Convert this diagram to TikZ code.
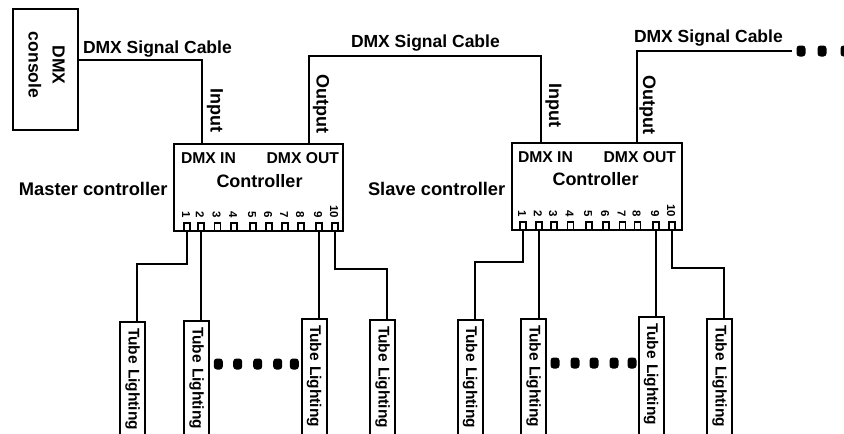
\documentclass[tikz,border=0pt]{standalone}
\usepackage{fontspec}
\setmainfont{Liberation Sans}
\begin{document}
\begin{tikzpicture}[x=1pt,y=-1pt,line width=2pt,
  box/.style={draw,line width=2pt,inner sep=0pt},
  lbl/.style={font=\bfseries\fontsize{17.5}{20}\selectfont,inner sep=0pt},
  big/.style={font=\bfseries\fontsize{18.3}{20}\selectfont,inner sep=0pt},
  dmx/.style={font=\bfseries\fontsize{15.7}{18}\selectfont,inner sep=0pt},
  ctl/.style={font=\bfseries\fontsize{18}{20}\selectfont,inner sep=0pt},
  vlbl/.style={font=\bfseries\fontsize{18}{20}\selectfont,rotate=-90,inner sep=0pt},
  pin/.style={draw,line width=1.8pt,minimum width=6pt,minimum height=8pt,inner sep=0pt},
  pnum/.style={font=\bfseries\fontsize{11.5}{12}\selectfont,rotate=-90,anchor=east,inner sep=0pt},
  tube/.style={draw,line width=2pt,rotate=-90,anchor=west,minimum height=25pt,text width=118pt,
    inner xsep=6pt,inner ysep=0pt,align=left,font=\bfseries\fontsize{15.5}{16}\selectfont},
  bigdot/.style={fill,rounded corners=3pt,minimum width=9pt,minimum height=11pt,inner sep=0pt},
  wire/.style={line width=2pt}]
\useasboundingbox (0,0) rectangle (844,434);
\begin{scope}
\clip (0,0) rectangle (844,434);
% console
\node[box,minimum width=65pt,minimum height=121pt] (con) at (45.5,69.5) {};
\node[rotate=-90,align=center,font=\bfseries\fontsize{17.5}{24}\selectfont,inner sep=0pt] (contxt) at (46.5,65) {DMX\\console};
% controllers
\node[box,minimum width=169pt,minimum height=87pt] (c1) at (258.5,187.5) {};
\node[box,minimum width=170pt,minimum height=87pt] (c2) at (597,186.5) {};
\node[dmx,anchor=base west] (c1in) at (180,163) {DMX IN};
\node[dmx,anchor=base east] (c1out) at (340,163) {DMX OUT};
\node[ctl,anchor=base] (c1name) at (259.5,187) {Controller};
\node[dmx,anchor=base west] (c2in) at (517,162) {DMX IN};
\node[dmx,anchor=base east] (c2out) at (677,162) {DMX OUT};
\node[ctl,anchor=base] (c2name) at (595.5,185) {Controller};
\node[big,anchor=base west] (master) at (18,195) {Master controller};
\node[big,anchor=base west] (slave) at (367,195) {Slave controller};
% pins
\foreach \i/\x in {1/187,2/201,3/217.5,4/234,5/253,6/269,7/285,8/301,9/319,10/335}{
  \node[pin] (c1p\i) at (\x,227) {};
  \node[pnum] (c1n\i) at (\x-1,219) {\i};
}
\foreach \i/\x in {1/523,2/539,3/554,4/570.5,5/589,6/606,7/622.5,8/637.5,9/656,10/672}{
  \node[pin] (c2p\i) at (\x,226) {};
  \node[pnum] (c2n\i) at (\x-1,218) {\i};
}
% cables
\node[lbl,anchor=base west] (cab1) at (82,53) {DMX Signal Cable};
\node[lbl,anchor=base west] (cab2) at (350,47) {DMX Signal Cable};
\node[lbl,anchor=base west] (cab3) at (633,42) {DMX Signal Cable};
\coordinate (k2) at (425,56);
\coordinate (e3) at (792,51);
\draw[wire] ([yshift=9.5pt]con.east) -| ([xshift=-56.5pt]c1.north);
\draw[wire] ([xshift=50.5pt]c1.north) |- (k2) -| ([xshift=-56pt]c2.north);
\draw[wire] ([xshift=40pt]c2.north) |- (e3);
\node[bigdot] (d31) at (801,51) {};
\node[bigdot] (d32) at (822,51) {};
\node[bigdot] (d33) at (845,51) {};
\node[vlbl] (in1) at (215,110) {Input};
\node[vlbl] (out1) at (321,104) {Output};
\node[vlbl] (in2) at (553.5,105) {Input};
\node[vlbl] (out2) at (647.5,105) {Output};
% tubes
\node[tube] (t11) at (132.5,321) {Tube Lighting};
\node[tube] (t12) at (196.5,320) {Tube Lighting};
\node[tube] (t13) at (314,318) {Tube Lighting};
\node[tube] (t14) at (382.5,319) {Tube Lighting};
\node[tube] (t21) at (470,319) {Tube Lighting};
\node[tube] (t22) at (533.5,318) {Tube Lighting};
\node[tube] (t23) at (651,316) {Tube Lighting};
\node[tube] (t24) at (719.5,318) {Tube Lighting};
\draw[wire] (c1p1.south) -- ++(0,32) -| ([xshift=4.5pt]t11.west);
\draw[wire] (c1p2.south) -- (c1p2.south |- t12.west);
\draw[wire] (c1p9.south) -- (c1p9.south |- t13.west);
\draw[wire] (c1p10.south) -- ++(0,37) -| ([xshift=4.5pt]t14.west);
\draw[wire] (c2p1.south) -- ++(0,31) -| ([xshift=4.5pt]t21.west);
\draw[wire] (c2p2.south) -- (c2p2.south |- t22.west);
\draw[wire] (c2p9.south) -- (c2p9.south |- t23.west);
\draw[wire] (c2p10.south) -- ++(0,37) -| ([xshift=4.5pt]t24.west);
\foreach \j/\x in {1/218.3,2/237.7,3/257.7,4/277.7,5/294.3}{
  \node[bigdot] (da\j) at (\x,364) {};
}
\foreach \j/\x in {1/555,2/575,3/594,4/614,5/632}{
  \node[bigdot] (db\j) at (\x,363) {};
}
\end{scope}
\end{tikzpicture}
\end{document}
